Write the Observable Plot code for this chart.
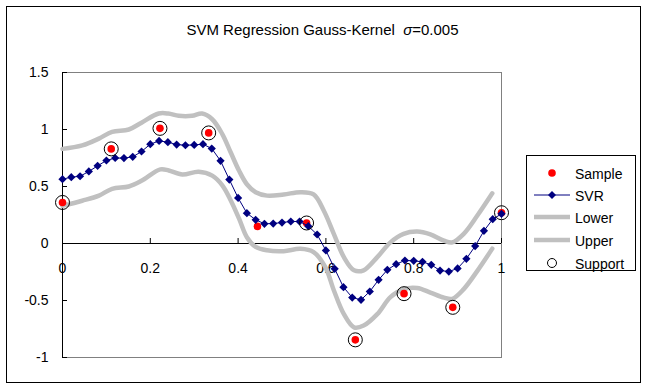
<!DOCTYPE html>
<html>
<head>
<meta charset="utf-8">
<script src="https://cdn.jsdelivr.net/npm/d3@7"></script>
<script src="https://cdn.jsdelivr.net/npm/@observablehq/plot@0.6"></script>
<style>
  html, body { margin: 0; padding: 0; background: #fff; }
  #wrap { position: relative; width: 645px; height: 390px; font-family: "Liberation Sans", Arial, sans-serif; }
  #border { position: absolute; left: 6px; top: 6px; width: 633px; height: 375px; border: 1px solid #000; pointer-events: none; }
  #title { position: absolute; left: 0; width: 645px; top: 21px; text-align: center; font-size: 15px; color: #000; }
  #legend { position: absolute; left: 526px; top: 155px; width: 108px; height: 114px; border: 1px solid #000; background: #fff; }
  #legend .row { position: absolute; left: 0; height: 20px; width: 108px; }
  #legend .row svg { position: absolute; left: 6px; top: 0; }
  #legend .row span { position: absolute; left: 48px; top: 2px; font-size: 14px; line-height: 16px; }
  #chart { position: absolute; left: 0; top: 0; }
</style>
</head>
<body>
<div id="wrap">
  <div id="chart"></div>
  <div id="border"></div>
  <div id="title">SVM Regression Gauss-Kernel&nbsp;&nbsp;<i>σ</i>=0.005</div>
  <div id="legend"></div>
</div>
<script>
// ---- data ----
const sampleX = [0, 0.111, 0.222, 0.333, 0.444, 0.556, 0.667, 0.778, 0.889, 1];
const sampleY = [0.36, 0.83, 1.01, 0.97, 0.15, 0.18, -0.845, -0.44, -0.56, 0.27];
const supportX = [0, 0.111, 0.222, 0.333, 0.556, 0.667, 0.778, 0.889, 1];
const supportY = [0.36, 0.83, 1.01, 0.97, 0.18, -0.845, -0.44, -0.56, 0.27];
const svrX = [0, 0.02, 0.04, 0.06, 0.08, 0.10, 0.12, 0.14, 0.16, 0.18,
              0.20, 0.22, 0.24, 0.26, 0.28, 0.30, 0.32, 0.34, 0.36, 0.38,
              0.40, 0.42, 0.44, 0.46, 0.48, 0.50, 0.52, 0.54, 0.56, 0.58,
              0.60, 0.62, 0.64, 0.66, 0.68, 0.70, 0.72, 0.74, 0.76, 0.78,
              0.80, 0.82, 0.84, 0.86, 0.88, 0.90, 0.92, 0.94, 0.96, 0.98, 1.00];
const svrY = [0.564, 0.582, 0.59, 0.632, 0.681, 0.728, 0.75, 0.749, 0.76, 0.807,
              0.871, 0.90, 0.889, 0.868, 0.862, 0.865, 0.871, 0.833, 0.725, 0.561,
              0.40, 0.266, 0.208, 0.173, 0.175, 0.184, 0.193, 0.193, 0.152, 0.079,
              -0.061, -0.222, -0.383, -0.474, -0.494, -0.421, -0.319, -0.231, -0.181, -0.149,
              -0.152, -0.161, -0.187, -0.237, -0.246, -0.219, -0.134, -0.023, 0.111, 0.213, 0.26];
const upperX = [0, 0.045, 0.083, 0.113, 0.151, 0.18, 0.219, 0.241, 0.265, 0.295, 0.318, 0.341,
                0.364, 0.383, 0.402, 0.42, 0.44, 0.466, 0.504, 0.542, 0.572, 0.595, 0.618,
                0.641, 0.664, 0.686, 0.717, 0.747, 0.777, 0.808, 0.838, 0.869, 0.888, 0.914,
                0.945, 0.979];
const upperY = [0.83, 0.86, 0.92, 0.98, 1.0, 1.06, 1.14, 1.14, 1.12, 1.12, 1.14, 1.09,
                0.96, 0.80, 0.64, 0.52, 0.45, 0.42, 0.43, 0.45, 0.43, 0.29, 0.085,
                -0.12, -0.235, -0.235, -0.12, 0.01, 0.085, 0.105, 0.08, 0.025, 0.01, 0.085,
                0.245, 0.44];
const lowerX = [0, 0.045, 0.083, 0.113, 0.151, 0.18, 0.223, 0.242, 0.273, 0.31, 0.341,
                0.364, 0.383, 0.402, 0.42, 0.44, 0.466, 0.504, 0.542, 0.572, 0.599, 0.618,
                0.641, 0.664, 0.686, 0.717, 0.747, 0.777, 0.808, 0.838, 0.869, 0.888, 0.914,
                0.945, 0.979];
const lowerY = [0.33, 0.375, 0.42, 0.48, 0.50, 0.55, 0.65, 0.64, 0.605, 0.63, 0.595,
                0.51, 0.38, 0.22, 0.055, -0.03, -0.06, -0.067, -0.047, -0.075, -0.21, -0.41,
                -0.62, -0.735, -0.72, -0.62, -0.47, -0.40, -0.39, -0.43, -0.475, -0.485, -0.40,
                -0.24, -0.045];
const xTicks = [0, 0.2, 0.4, 0.6, 0.8, 1];
const yTicks = [-1, -0.5, 0, 0.5, 1, 1.5];
const legendLabels = ["Sample", "SVR", "Lower", "Upper", "Support"];

// ---- layout ----
const W = 645, H = 390;
const mL = 62, mR = 144, mT = 72, mB = 33;
const innerW = W - mL - mR, innerH = H - mT - mB;
const yDomain = [-1, 1.5];
const y0px = innerH * (yDomain[1] - 0) / (yDomain[1] - yDomain[0]);

const pts = (xs, ys) => xs.map((x, i) => ({x, y: ys[i]}));
const sample = pts(sampleX, sampleY);
const support = pts(supportX, supportY);
const svr = pts(svrX, svrY);
const upper = pts(upperX, upperY);
const lower = pts(lowerX, lowerY);
const fmt = d => String(d);

const gray = "#c0c0c0", navy = "#000080", red = "#ff0000";

const plot = Plot.plot({
  width: W, height: H,
  marginLeft: mL, marginRight: mR, marginTop: mT, marginBottom: mB,
  style: {fontFamily: "'Liberation Sans', Arial, sans-serif", fontSize: "14px", color: "#000", background: "transparent"},
  x: {domain: [0, 1]},
  y: {domain: yDomain},
  marks: [
    Plot.frame({stroke: "#808080"}),
    Plot.ruleY([0], {stroke: "#000"}),
    Plot.ruleX([0], {stroke: "#000"}),
    Plot.tickY(yTicks, {y: d => d, stroke: "#000", insetRight: innerW - 5}),
    Plot.tickX(xTicks, {x: d => d, stroke: "#000", insetTop: y0px - 5, insetBottom: innerH - y0px}),
    Plot.axisY({ticks: yTicks, tickSize: 0, tickPadding: 14, tickFormat: fmt, fontSize: 14, label: null}),
    Plot.axisX({ticks: [], tickSize: 0, label: null}),
    Plot.text(xTicks, {x: d => d, y: 0, dy: 25, text: fmt, fontSize: 14, textAnchor: "middle", lineAnchor: "middle"}),
    Plot.line(lower, {x: "x", y: "y", stroke: gray, strokeWidth: 4.5, curve: "catmull-rom"}),
    Plot.line(upper, {x: "x", y: "y", stroke: gray, strokeWidth: 4.5, curve: "catmull-rom"}),
    Plot.dot(sample, {x: "x", y: "y", fill: red, r: 3.8}),
    Plot.line(svr, {x: "x", y: "y", stroke: navy, strokeWidth: 1}),
    Plot.dot(svr, {x: "x", y: "y", symbol: "diamond2", fill: navy, r: 3.7}),
    Plot.dot(support, {x: "x", y: "y", stroke: "#000", fill: "none", r: 7, strokeWidth: 1})
  ]
});
document.getElementById("chart").appendChild(plot);

// ---- legend ----
const legend = document.getElementById("legend");
const rowTops = [8, 30, 52, 75, 98];
legendLabels.forEach((lab, i) => {
  const row = document.createElement("div");
  row.className = "row";
  row.style.top = rowTops[i] + "px";
  let sym = "";
  if (i === 0) sym = `<circle cx="19" cy="9" r="3.8" fill="${red}"/>`;
  if (i === 1) sym = `<line x1="1" y1="9" x2="37" y2="9" stroke="${navy}" stroke-width="1"/><path d="M19,5 L23,9 L19,13 L15,9 Z" fill="${navy}"/>`;
  if (i === 2 || i === 3) sym = `<line x1="1" y1="9" x2="37" y2="9" stroke="${gray}" stroke-width="4.5"/>`;
  if (i === 4) sym = `<circle cx="19" cy="9" r="4.5" fill="none" stroke="#000" stroke-width="1"/>`;
  row.innerHTML = `<svg width="40" height="18">${sym}</svg><span>${lab}</span>`;
  legend.appendChild(row);
});
</script>
</body>
</html>
